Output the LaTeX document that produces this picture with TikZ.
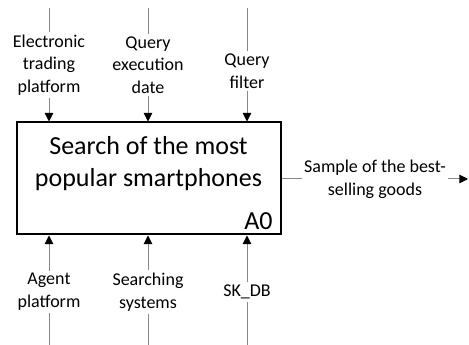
\documentclass[tikz,border=0pt]{standalone}
\usepackage{fontspec}
\setmainfont{Carlito}
\usetikzlibrary{arrows.meta,positioning}

\tikzset{every picture/.style={line width=0.75pt}}
\tikzset{
  func/.style={draw=black, line width=1.5pt, minimum width=198pt, minimum height=84pt, inner sep=0pt},
  bigtxt/.style={font=\fontsize{19.5}{24}\selectfont, align=center, inner sep=0.75pt},
  lbl/.style={font=\fontsize{13.5}{17}\selectfont, align=center, inner sep=1.5pt},
  wire/.style={draw={rgb, 255:red, 136; green, 136; blue, 136}, line width=0.75pt},
  tip/.style={-{Triangle[width=6.5pt,length=6.5pt,color=black,fill=black]}, draw={rgb, 255:red, 136; green, 136; blue, 136}, line width=0.75pt}
}

\begin{document}
\begin{tikzpicture}[x=0.75pt,y=0.75pt,yscale=-1,xscale=1]
\useasboundingbox (0,0) rectangle (469,345);

%Shape: Rectangle [id:a0]
\node [func] (a0) at (148.5,178.5) {};
% Text Node
\node [bigtxt] (title) at (148.5,164) {Search of the most\\popular smartphones};
% Text Node
\node [bigtxt, anchor=south east] (num) at (274,231) {A0};

% Text Node (controls)
\node [lbl] (elec) at (49,65) {Electronic\\trading\\platform};
\node [lbl] (qdate) at (148,65) {Query\\execution\\date};
\node [lbl] (qfilt) at (247,71) {Query\\filter};
% Text Node (mechanisms)
\node [lbl] (agent) at (49,292) {Agent\\platform};
\node [lbl] (search) at (148,292) {Searching\\systems};
\node [lbl] (skdb) at (247,292) {SK\_DB};
% Text Node (output)
\node [lbl, inner sep=1pt] (out) at (375,179.5) {Sample of the best-\\selling goods};

%free ends
\coordinate (t1) at (49,8);
\coordinate (t2) at (148,8);
\coordinate (t3) at (247,8);
\coordinate (b1) at (49,345);
\coordinate (b2) at (148,345);
\coordinate (b3) at (247,345);
\coordinate (oend) at (468,179);

%Straight Lines [controls]
\draw [wire] (t1) -- (elec);
\draw [wire] (t2) -- (qdate);
\draw [wire] (t3) -- (qfilt);
\draw [tip] (elec) -- (elec |- a0.north);
\draw [tip] (qdate) -- (qdate |- a0.north);
\draw [tip] (qfilt) -- (qfilt |- a0.north);
%Straight Lines [mechanisms]
\draw [wire] (b1) -- (agent);
\draw [wire] (b2) -- (search);
\draw [wire] (b3) -- (skdb);
\draw [tip] (agent) -- (agent |- a0.south);
\draw [tip] (search) -- (search |- a0.south);
\draw [tip] (skdb) -- (skdb |- a0.south);
%Straight Lines [output]
\draw [wire] (a0.east |- oend) -- (out.west |- oend);
\draw [tip] (out.east |- oend) -- (oend);

\end{tikzpicture}
\end{document}
